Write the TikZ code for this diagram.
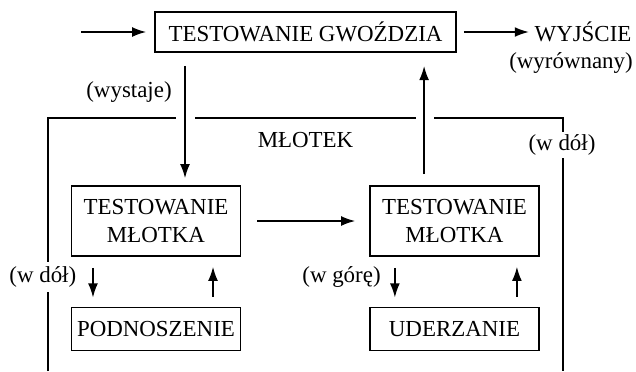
\documentclass[tikz,border=0pt]{standalone}
\usepackage{fontspec}
\setmainfont{Liberation Serif}
\usetikzlibrary{arrows.meta}
\begin{document}
\begin{tikzpicture}[x=0.025cm,y=-0.025cm,line width=1.1pt,
  every node/.style={inner sep=0pt,font=\fontsize{16.3}{19.3}\selectfont},
  block/.style={draw,minimum width=4.225cm,align=center},
  flow/.style={-{Latex[length=10pt,width=7pt]}},
  cut/.style={fill=white,inner sep=3pt}]
\useasboundingbox (0,0) rectangle (636,371);
\node [block,minimum width=7.525cm,minimum height=1.01cm] (nail) at (305.5,32) {TESTOWANIE GWOŹDZIA};
\node [block,minimum height=1.75cm] (hamA) at (156,221) {TESTOWANIE\\MŁOTKA};
\node [block,minimum height=1.75cm] (hamB) at (454.5,221) {TESTOWANIE\\MŁOTKA};
\node [block,minimum height=1.085cm] (lift) at (156,329) {PODNOSZENIE};
\node [block,minimum height=1.085cm] (strike) at (454.5,329) {UDERZANIE};
\node (out) at (583,32) {WYJŚCIE};
\node (outnote) at (571,63) {(wyrównany)};
\coordinate (in) at (81,32);
\draw (48,371) -- (48,118) -- (176,118);
\draw (195,118) -- (416,118);
\draw (434,118) -- (563,118) -- (563,371);
\node (hammer) at (305.5,140) {MŁOTEK};
\node [cut] (downA) at (42.8,277) {(w dół)};
\node [cut,inner sep=2pt] (downB) at (562,145) {(w dół)};
\node (up) at (341.5,277) {(w górę)};
\node (sticks) at (129,92) {(wystaje)};
\draw [flow,shorten >=0.2cm] (in) -- (nail.west);
\draw [flow,shorten <=0.175cm,shorten >=0.125cm] (nail.east) -- (out.west);
\draw [flow,shorten <=0.325cm,shorten >=0.175cm] ([xshift=0.725cm]hamA.north |- nail.south) -- ([xshift=0.725cm]hamA.north);
\draw [flow,shorten <=0.275cm,shorten >=0.325cm] ([xshift=-0.76cm]hamB.north) -- ([xshift=-0.76cm]hamB.north |- nail.south);
\draw [flow,shorten <=0.4cm,shorten >=0.35cm] (hamA.east) -- (hamB.west);
\draw [flow,shorten <=0.275cm,shorten >=0.225cm] ([xshift=-1.575cm]hamA.south) -- ([xshift=-1.575cm]lift.north);
\draw [flow,shorten <=0.25cm,shorten >=0.25cm] ([xshift=1.425cm]lift.north) -- ([xshift=1.425cm]hamA.south);
\draw [flow,shorten <=0.275cm,shorten >=0.225cm] ([xshift=-1.49cm]hamB.south) -- ([xshift=-1.49cm]strike.north);
\draw [flow,shorten <=0.25cm,shorten >=0.25cm] ([xshift=1.56cm]strike.north) -- ([xshift=1.56cm]hamB.south);
\end{tikzpicture}
\end{document}
